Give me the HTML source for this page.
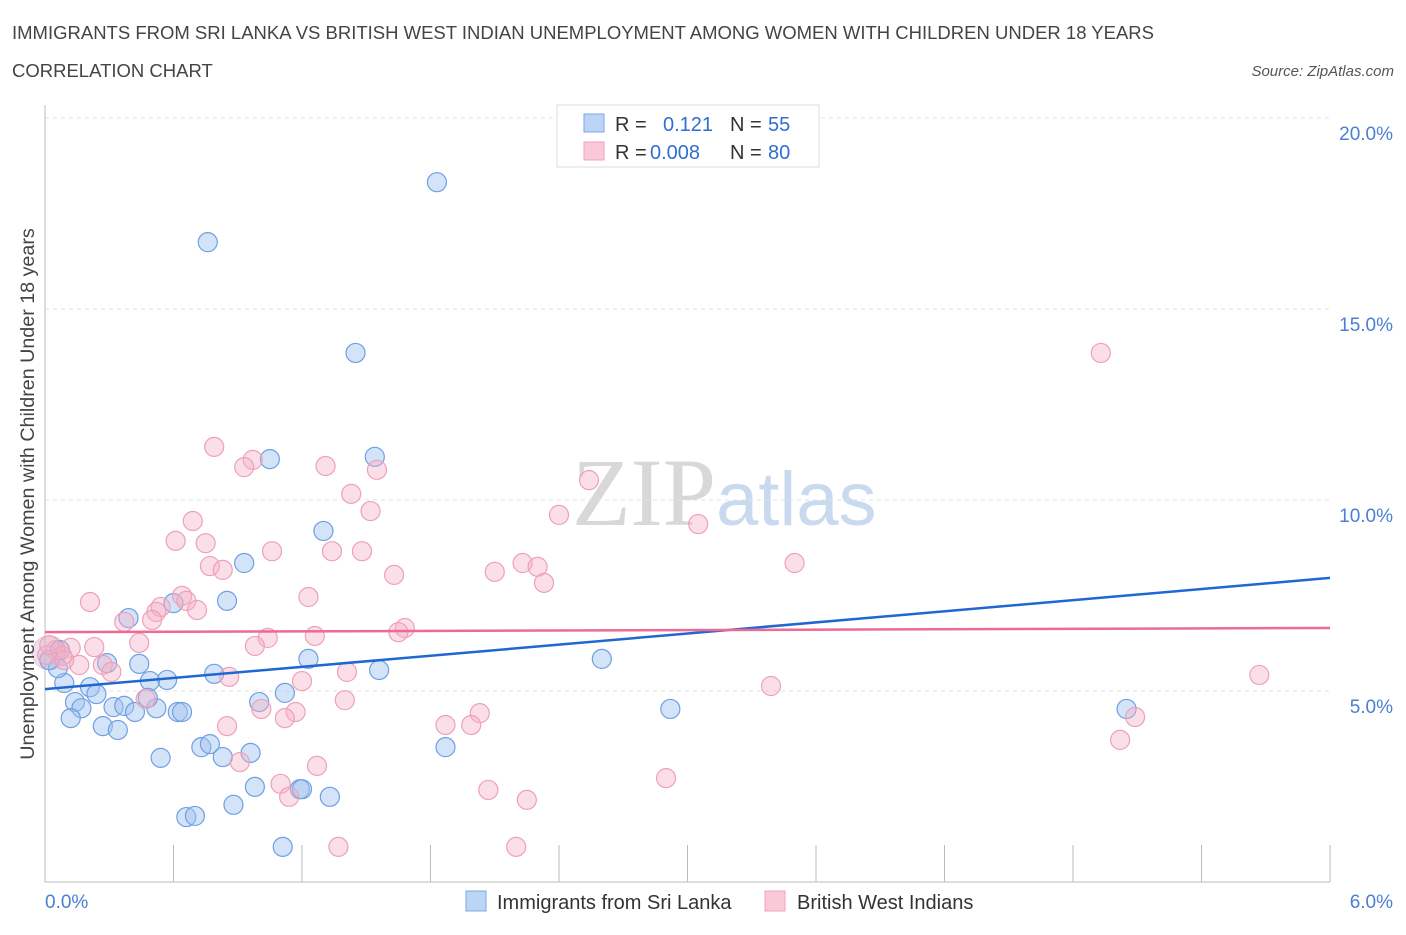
<!DOCTYPE html>
<html><head><meta charset="utf-8"><style>
body{margin:0;background:#fff;font-family:"Liberation Sans",sans-serif;}
#c{position:relative;width:1406px;height:930px;}
</style></head><body>
<div id="c">
<svg id="s" width="1406" height="930" xmlns="http://www.w3.org/2000/svg">
<text x="12" y="39" font-size="18.5" fill="#444">IMMIGRANTS FROM SRI LANKA VS BRITISH WEST INDIAN UNEMPLOYMENT AMONG WOMEN WITH CHILDREN UNDER 18 YEARS</text>
<text x="12" y="77" font-size="18.5" fill="#444">CORRELATION CHART</text>
<text x="1394" y="76" font-size="15" fill="#555" font-style="italic" text-anchor="end">Source: ZipAtlas.com</text>
<text x="716" y="525" font-size="96" fill="#d8d8d8" text-anchor="end" font-family="Liberation Serif">ZIP</text>
<text x="716" y="525" font-size="76" fill="#c9daf0">atlas</text>
<g id="grid"></g><g id="pts"></g><g id="lines"></g>
<text transform="translate(34,494) rotate(-90)" font-size="19.7" fill="#444" text-anchor="middle">Unemployment Among Women with Children Under 18 years</text>
<g>
<rect x="557" y="105" width="262" height="62" fill="#fff" stroke="#ddd"/>
<rect x="584" y="114" width="20" height="18" fill="#bcd4f5" stroke="#7ea7e4"/>
<rect x="584" y="142" width="20" height="18" fill="#f9c9d8" stroke="#f0a3bb"/>
<text x="615" y="131" font-size="20" fill="#333">R = </text><text x="663" y="131" font-size="20" fill="#2f6fd0">0.121</text>
<text x="730" y="131" font-size="20" fill="#333">N = </text><text x="768" y="131" font-size="20" fill="#2f6fd0">55</text>
<text x="615" y="159" font-size="20" fill="#333">R = </text><text x="650" y="159" font-size="20" fill="#2f6fd0">0.008</text>
<text x="730" y="159" font-size="20" fill="#333">N = </text><text x="768" y="159" font-size="20" fill="#2f6fd0">80</text>
</g>
<g>
<rect x="466" y="891" width="20" height="20" fill="#bcd4f5" stroke="#7ea7e4"/>
<text x="497" y="909" font-size="20" fill="#333">Immigrants from Sri Lanka</text>
<rect x="765" y="891" width="20" height="20" fill="#f9c9d8" stroke="#f0a3bb"/>
<text x="797" y="909" font-size="20" fill="#333">British West Indians</text>
</g>
</svg></div>
<script>
const xTicks=[0,6];
const yTicks=[5,10,15,20];
const trendBlue=[5.05,7.96];
const trendPink=[6.54,6.65];
const blueX=[1.83,0.76,1.45,1.54,1.05,1.30,0.93,0.60,0.85,0.39,1.23,2.60,1.56,0.44,0.29,0.79,0.57,0.49,0.09,0.06,0.02,0.21,0.24,1.12,1.00,0.14,0.17,0.32,0.37,0.42,0.52,0.62,0.64,0.12,0.27,0.34,2.92,5.05,0.73,0.77,1.87,0.96,0.83,0.54,0.88,0.66,0.70,0.98,1.19,1.20,1.33,1.11,0.48,0.07];
const blueY=[18.32,16.75,13.85,11.13,11.07,9.19,8.35,7.30,7.36,6.91,5.84,5.84,5.55,5.71,5.73,5.45,5.29,5.26,5.21,5.60,5.81,5.10,4.92,4.95,4.71,4.71,4.55,4.58,4.61,4.45,4.55,4.45,4.45,4.29,4.08,3.98,4.53,4.53,3.53,3.61,3.53,3.38,3.27,3.25,2.02,1.70,1.73,2.49,2.43,2.43,2.23,0.92,4.82,6.07];
const pinkX=[4.93,0.79,0.97,0.93,1.31,1.55,2.54,1.43,1.52,0.69,2.40,3.05,0.61,0.75,1.06,1.34,1.48,2.23,2.30,2.10,3.50,0.77,0.83,1.63,2.33,0.21,1.23,0.64,0.66,0.54,0.52,0.71,0.50,0.37,1.68,1.65,1.26,1.04,0.44,0.98,0.23,0.12,0.05,0.08,0.01,0.16,0.27,0.31,0.86,1.41,1.20,5.67,3.39,0.47,1.40,1.01,1.17,1.12,2.03,0.85,1.87,1.99,5.09,5.02,0.91,1.27,2.90,1.10,1.14,2.07,2.25,1.37,2.20,0.02,0.09];
const pinkY=[13.85,11.39,11.05,10.86,10.89,10.79,10.52,10.16,9.71,9.45,9.61,9.37,8.93,8.87,8.66,8.66,8.66,8.35,8.25,8.12,8.35,8.27,8.17,8.04,7.83,7.33,7.46,7.49,7.36,7.20,7.07,7.12,6.86,6.81,6.65,6.54,6.44,6.39,6.26,6.18,6.15,6.13,6.07,5.92,5.94,5.68,5.68,5.50,5.37,5.50,5.26,5.42,5.13,4.79,4.76,4.53,4.45,4.29,4.42,4.08,4.11,4.11,4.32,3.72,3.14,3.04,2.72,2.57,2.23,2.41,2.15,0.92,0.92,6.20,5.81];
const NS="http://www.w3.org/2000/svg";
const X=v=>45+v/6*1285, Y=v=>882-v/20*764;
function mk(t,a,p){const e=document.createElementNS(NS,t);for(const k in a)e.setAttribute(k,a[k]);p.appendChild(e);return e;}
const g=document.getElementById('grid'),P=document.getElementById('pts'),L=document.getElementById('lines');
let ax=mk('line',{x1:45,y1:105,x2:45,y2:882,stroke:'#bbb'},g);


let bx=mk('line',{x1:45,y1:882,x2:1330,y2:882,stroke:'#bbb'},g);


for(let i=1;i<=10;i++){const tk=mk('line',{x1:X(i*0.6),y1:845,x2:X(i*0.6),y2:882,stroke:'#bbb'},g);

}
yTicks.forEach(v=>{const gl=mk('line',{x1:45,y1:Y(v),x2:1330,y2:Y(v),stroke:'#e2e2e2','stroke-dasharray':'4,4'},g);


const t=mk('text',{x:1393,y:Y(v)+22,'font-size':19,fill:'#4a7fd4','text-anchor':'end'},g);t.textContent=v.toFixed(1)+'%';

});
xTicks.forEach((v,i)=>{const t=mk('text',{x:i?1393:45,y:908,'font-size':19,fill:'#4a7fd4','text-anchor':i?'end':'start'},g);t.textContent=v.toFixed(1)+'%';

});
const big=mk('circle',{cx:X(0.02),cy:Y(6.0),r:17,fill:'rgba(200,170,200,0.35)',stroke:'rgba(220,150,180,0.5)'},P);


blueX.forEach((x,i)=>{const c=mk('circle',{cx:X(x),cy:Y(blueY[i]),r:9.5,fill:'rgba(160,196,240,0.45)',stroke:'#6f9fe2','stroke-width':1.2},P);

});
pinkX.forEach((x,i)=>{const c=mk('circle',{cx:X(x),cy:Y(pinkY[i]),r:9.5,fill:'rgba(246,175,198,0.4)',stroke:'#efa0b9','stroke-width':1.2},P);

});
const l1=mk('line',{x1:X(0),y1:Y(trendBlue[0]),x2:X(6),y2:Y(trendBlue[1]),stroke:'#1f67d2','stroke-width':2.5},L);


const l2=mk('line',{x1:X(0),y1:Y(trendPink[0]),x2:X(6),y2:Y(trendPink[1]),stroke:'#ec6a93','stroke-width':2.5},L);


</script>
</body></html>
